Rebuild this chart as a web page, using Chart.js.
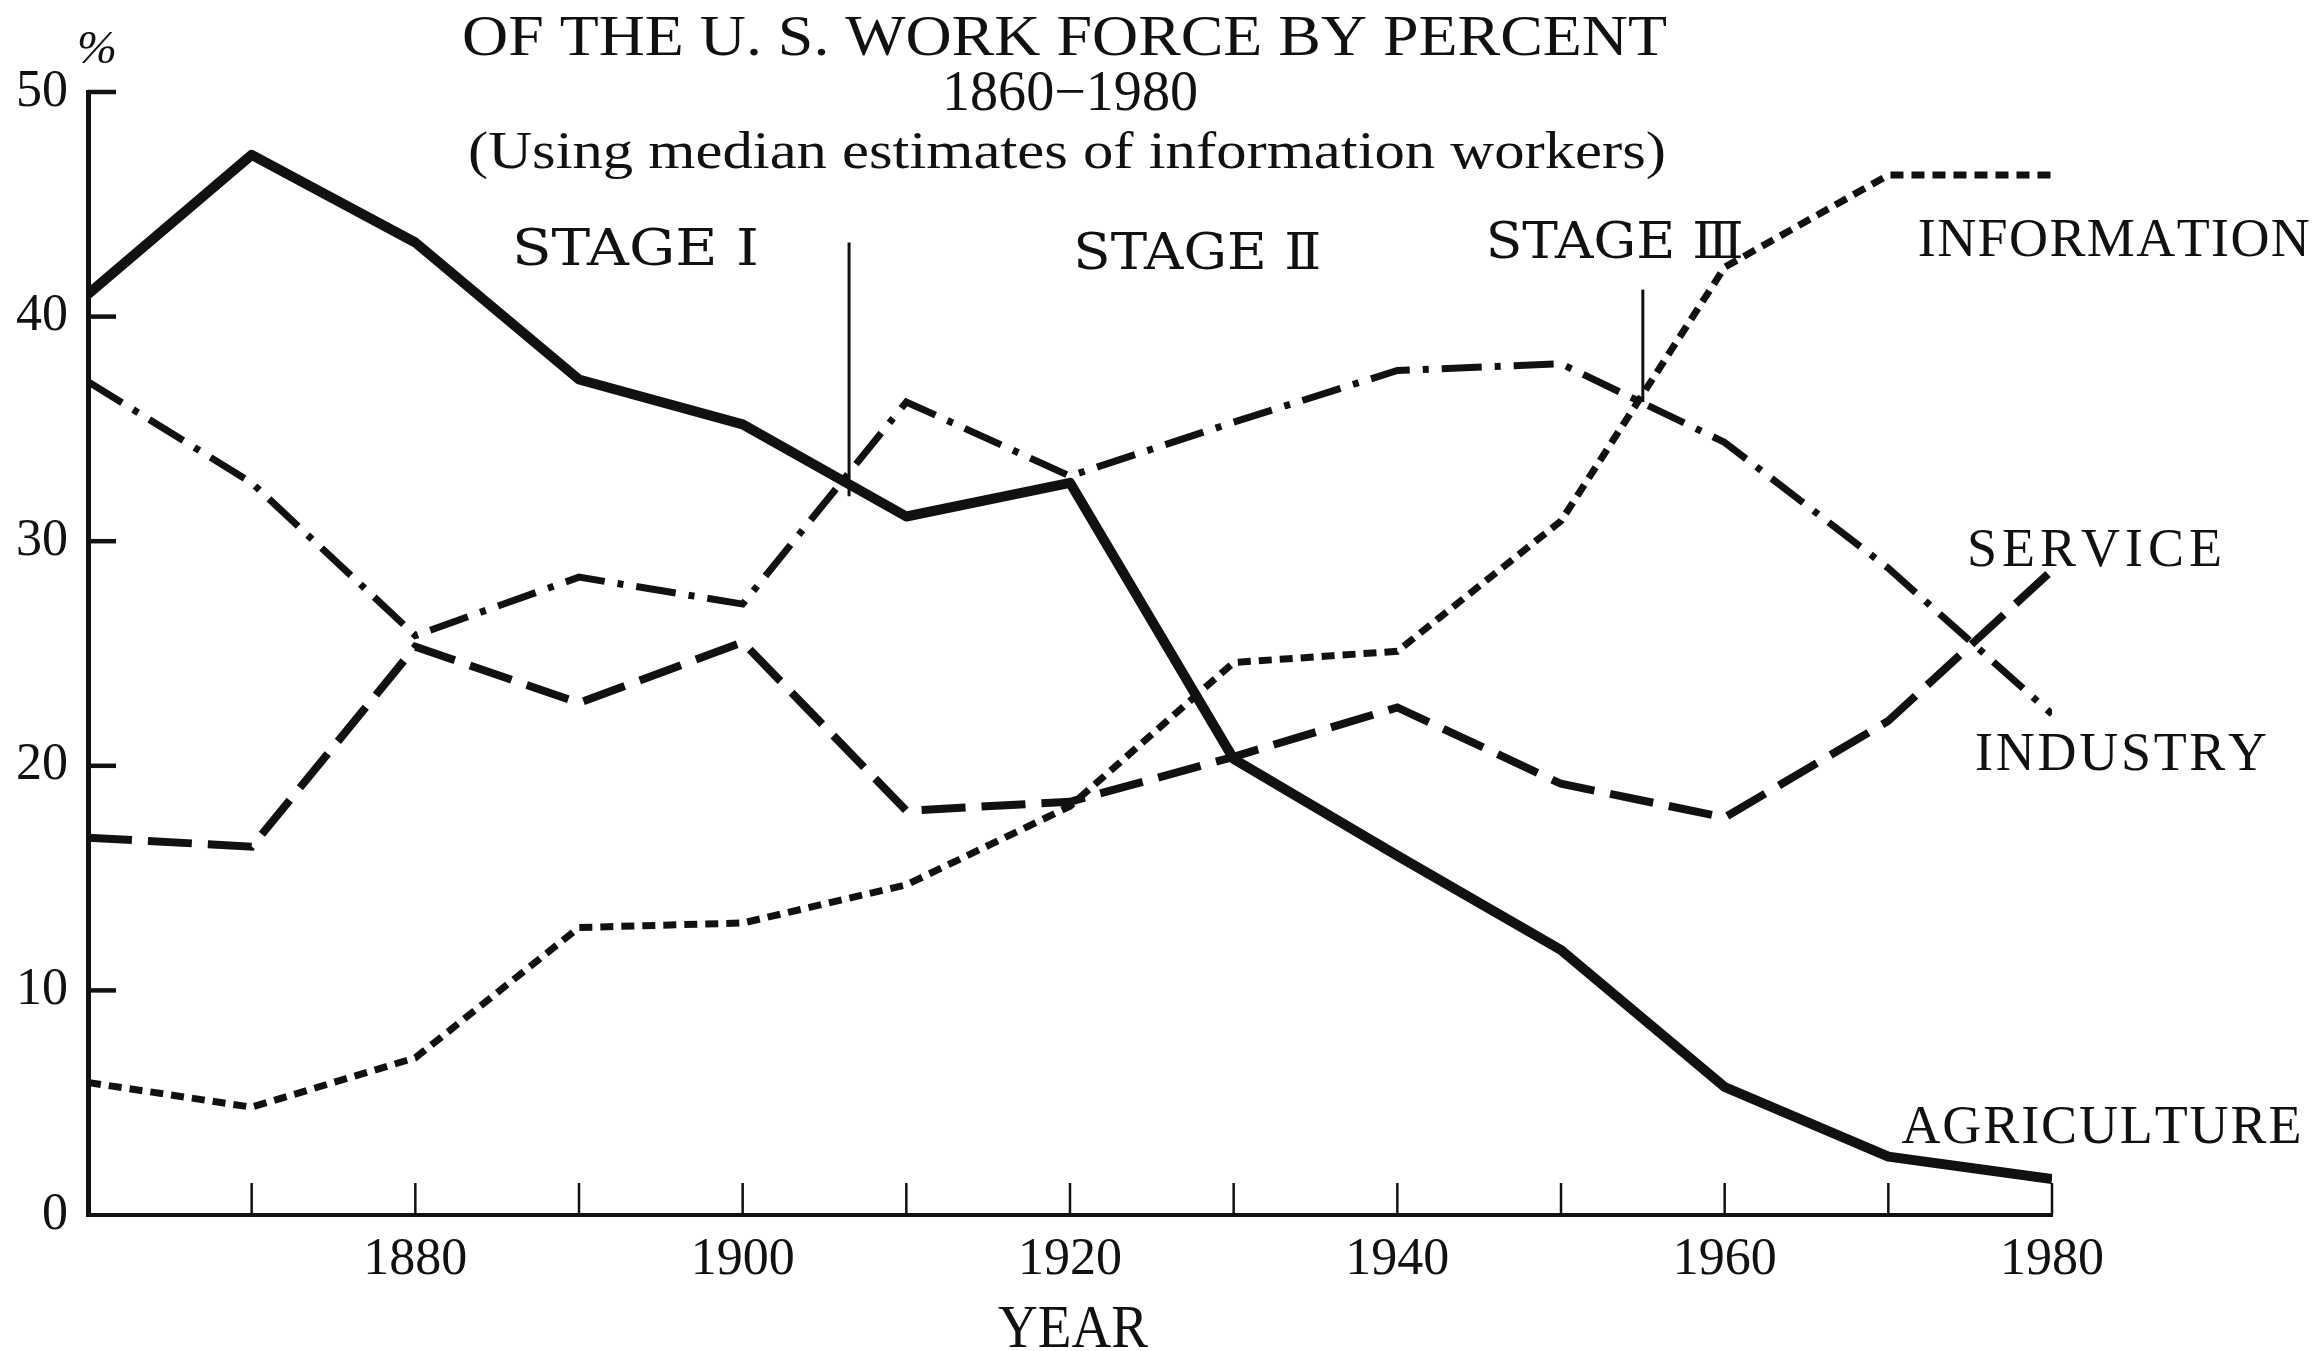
<!DOCTYPE html>
<html>
<head>
<meta charset="utf-8">
<script src="https://cdn.jsdelivr.net/npm/chart.js@4"></script>
<style>
  html, body { margin: 0; padding: 0; background: #fff; }
  canvas { display: block; }
</style>
</head>
<body>
<canvas id="lineChart" width="2323" height="1351"></canvas>
<script>
// values (percent of work force)
const years = [1860, 1870, 1880, 1890, 1900, 1910, 1920, 1930, 1940, 1950, 1960, 1970, 1980];
const agriculture = [41.0, 47.2, 43.3, 37.2, 35.2, 31.1, 32.6, 20.3, 16.0, 11.8, 5.7, 2.6, 1.6];
const industry = [37.1, 32.6, 25.8, 28.4, 27.2, 36.2, 32.9, 35.3, 37.6, 37.9, 34.4, 28.8, 22.3];
const service = [16.8, 16.4, 25.3, 22.8, 25.5, 18.0, 18.4, 20.4, 22.6, 19.2, 17.7, 22.0, 28.7];
const information = [5.9, 4.8, 7.0, 12.8, 13.0, 14.7, 18.2, 24.6, 25.1, 30.9, 42.2, 46.3, 46.3];

const seriesNames = ['AGRICULTURE', 'INDUSTRY', 'SERVICE', 'INFORMATION'];
const stageNames = ['STAGE Ⅰ', 'STAGE Ⅱ', 'STAGE Ⅲ'];
const stageYears = [1906.5, 1955];
const xTickLabels = [1880, 1900, 1920, 1940, 1960, 1980];

const titleLines = [
    'OF THE U. S. WORK FORCE BY PERCENT',
    '1860\u22121980',
    '(Using median estimates of information workers)'
];

const ink = '#111';

function fitText(ctx, text, left, base, font, width) {
    ctx.save();
    ctx.font = font;
    ctx.fillStyle = ink;
    ctx.textAlign = 'left';
    ctx.textBaseline = 'alphabetic';
    const natural = ctx.measureText(text).width;
    ctx.translate(left, base);
    ctx.scale(width / natural, 1);
    ctx.fillText(text, 0, 0);
    ctx.restore();
}

function spaceText(ctx, text, left, base, font, width) {
    ctx.save();
    ctx.font = font;
    const chars = [...text];
    const widths = chars.map(ch => ctx.measureText(ch).width);
    const total = widths.reduce((a, b) => a + b, 0);
    const gap = (width - total) / (chars.length - 1);
    ctx.restore();
    if (gap < 0) {
        fitText(ctx, text, left, base, font, width);
        return;
    }
    ctx.save();
    ctx.font = font;
    ctx.fillStyle = ink;
    ctx.textAlign = 'left';
    ctx.textBaseline = 'alphabetic';
    let x = left;
    chars.forEach((ch, i) => {
        ctx.fillText(ch, x, base);
        x += widths[i] + gap;
    });
    ctx.restore();
}

const annotations = {
    id: 'annotations',
    afterDatasetsDraw(chart) {
        const ctx = chart.ctx;
        const area = chart.chartArea;
        const x = chart.scales.x;
        const y = chart.scales.y;

        ctx.save();
        ctx.strokeStyle = ink;

        // inward ticks on both axes
        ctx.lineWidth = 4.5;
        for (let v = 10; v <= 50; v += 10) {
            const py = y.getPixelForValue(v);
            ctx.beginPath();
            ctx.moveTo(area.left, py);
            ctx.lineTo(area.left + 28, py);
            ctx.stroke();
        }
        ctx.lineWidth = 2.5;
        for (let yr = 1870; yr <= 1980; yr += 10) {
            const px = x.getPixelForValue(yr);
            ctx.beginPath();
            ctx.moveTo(px, area.bottom);
            ctx.lineTo(px, area.bottom - 32);
            ctx.stroke();
        }

        // stage dividers
        ctx.lineWidth = 3;
        const stageSpans = [[43.3, 32.0], [41.2, 36.2]];
        stageYears.forEach((yr, i) => {
            const px = x.getPixelForValue(yr);
            ctx.beginPath();
            ctx.moveTo(px, y.getPixelForValue(stageSpans[i][0]));
            ctx.lineTo(px, y.getPixelForValue(stageSpans[i][1]));
            ctx.stroke();
        });
        ctx.restore();

        // stage names
        const stageFont = '50px "DejaVu Serif"';
        fitText(ctx, stageNames[0], x.getPixelForValue(1885.9), y.getPixelForValue(42.3), stageFont, 247);
        fitText(ctx, stageNames[1], x.getPixelForValue(1920.2), y.getPixelForValue(42.1), stageFont, 248);
        fitText(ctx, stageNames[2], x.getPixelForValue(1945.4), y.getPixelForValue(42.6), stageFont, 258);

        // series names at the right
        const labelFont = '54px "Liberation Serif"';
        spaceText(ctx, seriesNames[3], x.getPixelForValue(1971.8), y.getPixelForValue(42.7), labelFont, 392);
        spaceText(ctx, seriesNames[2], x.getPixelForValue(1974.8), y.getPixelForValue(28.9), labelFont, 255);
        spaceText(ctx, seriesNames[1], x.getPixelForValue(1975.3), y.getPixelForValue(19.8), labelFont, 292);
        spaceText(ctx, seriesNames[0], x.getPixelForValue(1970.8), y.getPixelForValue(3.2), labelFont, 400);

        // title block, percent sign and axis title
        fitText(ctx, titleLines[0], 462, 55, '56px "Liberation Serif"', 1205);
        fitText(ctx, titleLines[1], 942, 110, '56px "Liberation Serif"', 256);
        fitText(ctx, titleLines[2], 468, 168, '52px "Liberation Serif"', 1198);
        fitText(ctx, '%', 77, 63, 'italic 46px "Liberation Serif"', 40);
        fitText(ctx, 'YEAR', 998, 1347, '62px "Liberation Serif"', 150);
    }
};

const chartPage = {

    initialize() {
        this.drawChart();
    },

    points(values) {
        return years.map((yr, i) => ({ x: yr, y: values[i] }));
    },

    drawChart() {
        const canvas = document.getElementById('lineChart');
        new Chart(canvas, {
            type: 'line',
            data: {
                datasets: [{
                    label: seriesNames[0],
                    data: this.points(agriculture),
                    borderColor: ink,
                    borderWidth: 10,
                    borderJoinStyle: 'round',
                }, {
                    label: seriesNames[1],
                    data: this.points(industry),
                    borderColor: ink,
                    borderWidth: 7,
                    borderDash: [40, 13, 6, 13],
                }, {
                    label: seriesNames[2],
                    data: this.points(service),
                    borderColor: ink,
                    borderWidth: 8,
                    borderDash: [44, 16],
                }, {
                    label: seriesNames[3],
                    data: this.points(information),
                    borderColor: ink,
                    borderWidth: 7,
                    borderDash: [13, 8],
                }],
            },
            options: {
                responsive: false,
                animation: false,
                devicePixelRatio: 1,
                elements: {
                    point: { radius: 0 },
                    line: { tension: 0, fill: false },
                },
                layout: {
                    padding: { top: 92, right: 271, bottom: 0, left: 0 }
                },
                plugins: {
                    legend: { display: false },
                    tooltip: { enabled: false },
                },
                scales: {
                    x: {
                        type: 'linear',
                        min: 1860,
                        max: 1980,
                        afterFit(scale) { scale.height = 136; },
                        grid: { drawOnChartArea: false, drawTicks: false },
                        border: { display: true, color: ink, width: 4 },
                        ticks: {
                            stepSize: 10,
                            autoSkip: false,
                            maxRotation: 0,
                            padding: 14,
                            color: ink,
                            font: { family: 'Liberation Serif', size: 52 },
                            callback: v => xTickLabels.includes(v) ? String(v) : '',
                        },
                    },
                    y: {
                        min: 0,
                        max: 50,
                        afterFit(scale) { scale.width = 88; },
                        grid: { drawOnChartArea: false, drawTicks: false },
                        border: { display: true, color: ink, width: 5 },
                        ticks: {
                            stepSize: 10,
                            padding: 20,
                            color: ink,
                            font: { family: 'Liberation Serif', size: 52 },
                        },
                    }
                }
            },
            plugins: [annotations]
        });
    }
}

chartPage.initialize();
</script>
</body>
</html>
